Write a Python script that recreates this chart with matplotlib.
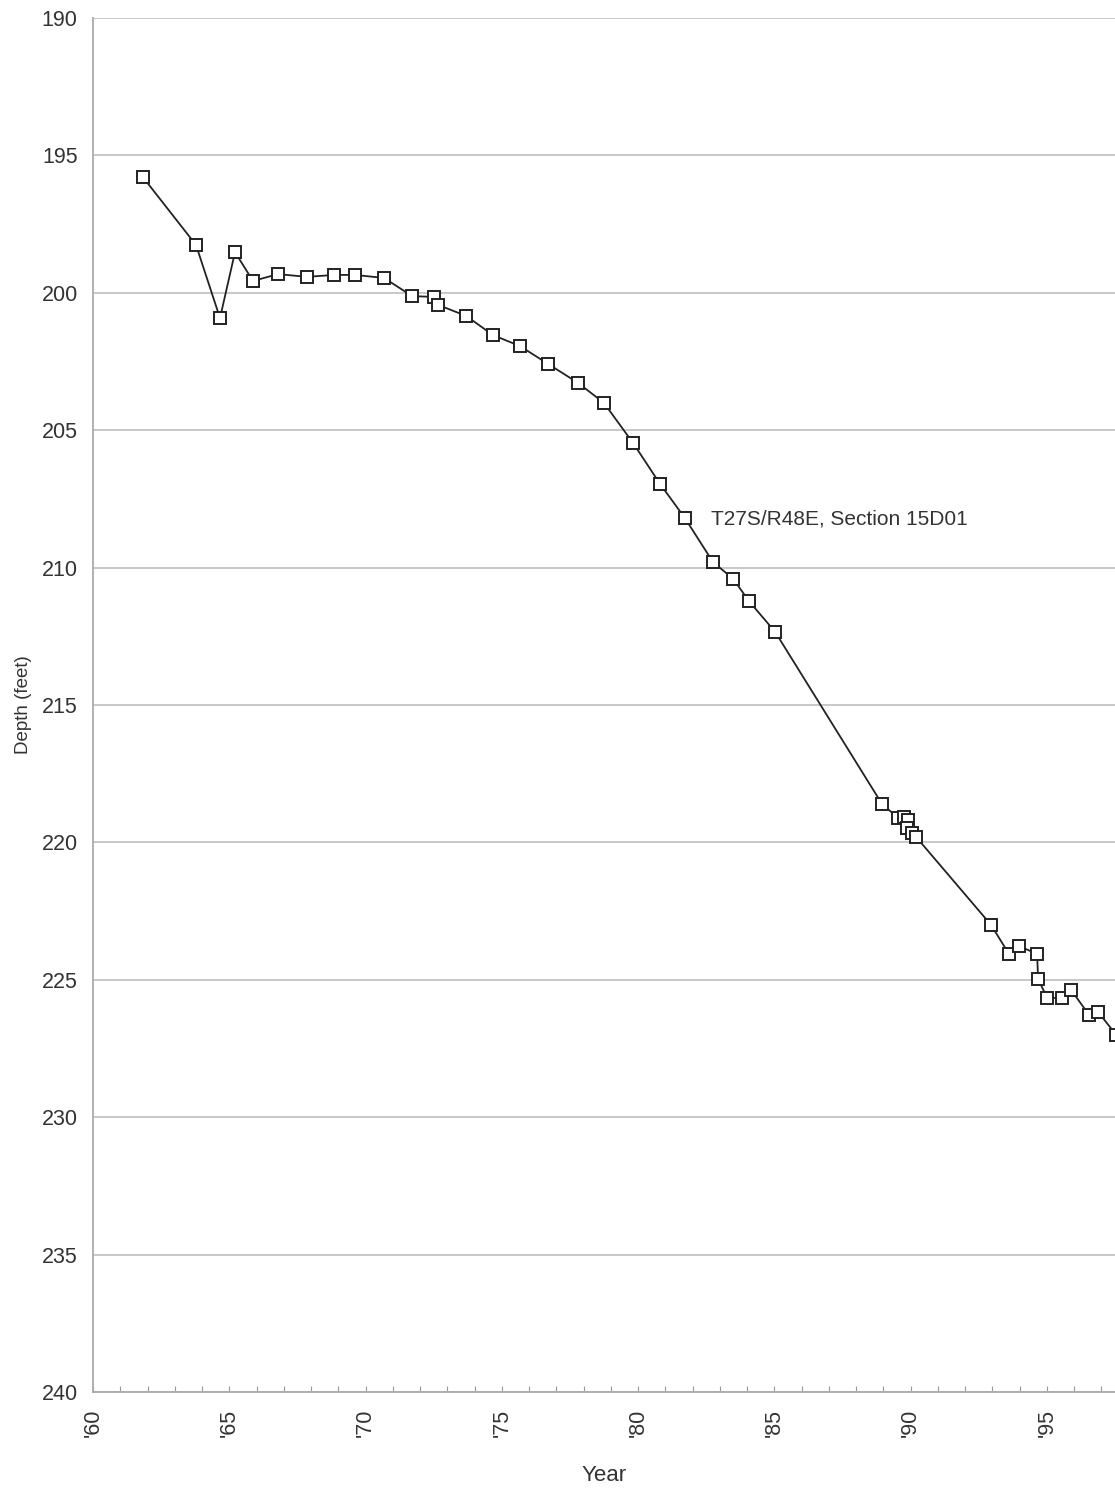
import matplotlib
matplotlib.use("Agg")
import matplotlib.pyplot as plt
from matplotlib.ticker import MultipleLocator, FixedLocator

plt.rcParams['font.family'] = ['Liberation Sans', 'DejaVu Sans']

years = [1961.83, 1963.78, 1964.66, 1965.21, 1965.87, 1966.79, 1967.85, 1968.84,
         1969.61, 1970.68, 1971.71, 1972.51, 1972.66, 1973.69, 1974.68, 1975.67,
         1976.70, 1977.80, 1978.75, 1979.82, 1980.81, 1981.72, 1982.75, 1983.49,
         1984.07, 1985.03, 1988.95, 1989.54, 1989.76, 1989.91, 1989.87, 1990.06,
         1990.20, 1992.95, 1993.61, 1993.98, 1994.64, 1994.68, 1995.01, 1995.56,
         1995.89, 1996.55, 1996.88, 1997.54]
depth = [195.79, 198.26, 200.92, 198.52, 199.57, 199.32, 199.42, 199.35,
         199.35, 199.46, 200.12, 200.15, 200.44, 200.84, 201.54, 201.94,
         202.59, 203.28, 204.01, 205.47, 206.96, 208.20, 209.80, 210.41,
         211.22, 212.34, 218.60, 219.11, 219.08, 219.19, 219.48, 219.66,
         219.80, 223.00, 224.06, 223.77, 224.06, 224.97, 225.66, 225.66,
         225.37, 226.28, 226.17, 227.00]

xtick_pos = [1960, 1965, 1970, 1975, 1980, 1985, 1990, 1995]
xtick_labels = ["'60", "'65", "'70", "'75", "'80", "'85", "'90", "'95"]
ytick_pos = [190, 195, 200, 205, 210, 215, 220, 225, 230, 235, 240]
label_text = "T27S/R48E, Section 15D01"

fig = plt.figure(figsize=(11.15, 14.90), dpi=100)
ax = fig.add_axes([93 / 1115, 1 - 1392 / 1490, 1 - 93 / 1115, (1392 - 18) / 1490])

ax.plot(years, depth, color='#222222', lw=1.3, marker='s', markersize=8.5,
        markerfacecolor='white', markeredgecolor='#222222', markeredgewidth=1.4,
        zorder=3)

ax.set_xlim(1960, 1997.5)
ax.set_ylim(240, 190)

ax.set_yticks(ytick_pos)
ax.set_yticklabels([str(v) for v in ytick_pos])
ax.yaxis.grid(True, color='#c4c4c4', lw=1.3)
ax.set_axisbelow(True)
ax.tick_params(axis='y', length=0, pad=11, labelsize=15.5, labelcolor='#333333')

ax.xaxis.set_major_locator(FixedLocator(xtick_pos))
ax.set_xticklabels(xtick_labels, rotation=90)
ax.xaxis.set_minor_locator(MultipleLocator(1))
ax.tick_params(axis='x', which='both', direction='in', length=4, width=0.8,
               color='#999999', pad=12, labelsize=15.5, labelcolor='#333333')

for s in ['right', 'top']:
    ax.spines[s].set_visible(False)
for s in ['left', 'bottom']:
    ax.spines[s].set_color('#aaaaaa')
    ax.spines[s].set_linewidth(1.3)

ax.set_xlabel('Year', fontsize=16, color='#333333', labelpad=20)
ax.set_ylabel('Depth (feet)', fontsize=13.5, color='#333333', labelpad=7)

ax.text(1982.68, 208.22, label_text, fontsize=15, color='#333333',
        va='center', ha='left')

fig.savefig('out.png', dpi=100)
